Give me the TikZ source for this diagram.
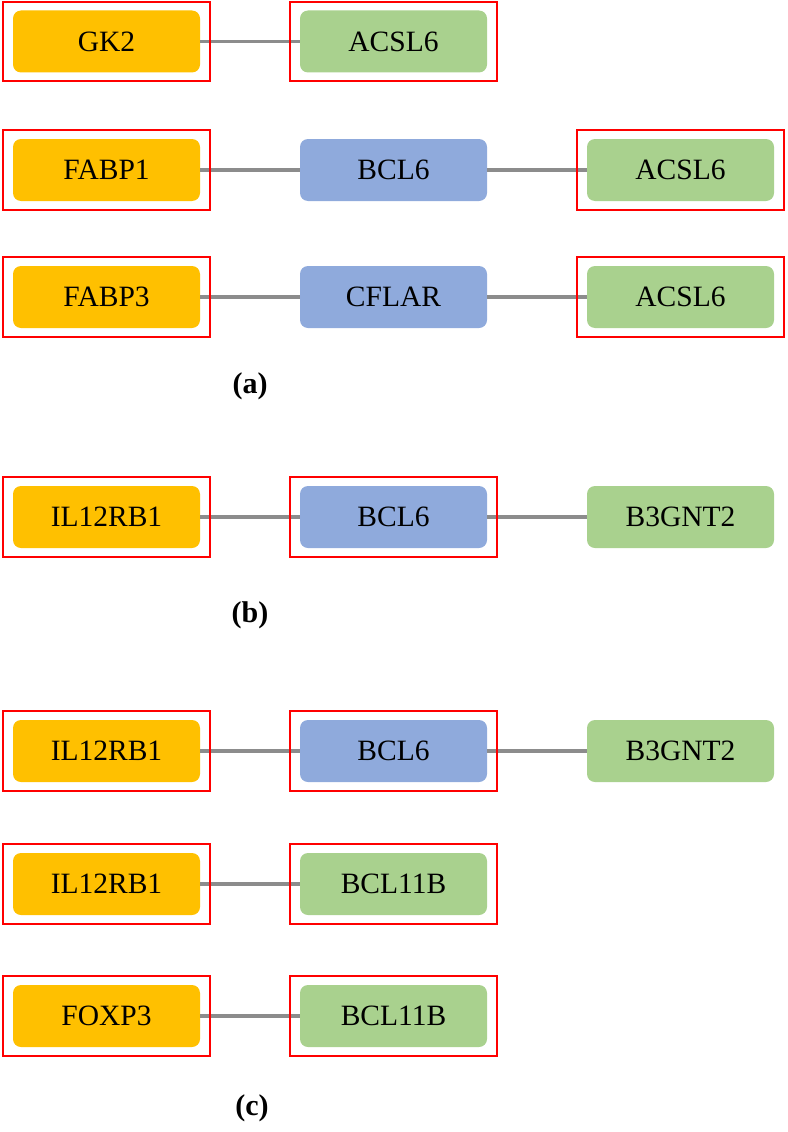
\documentclass[tikz,border=0pt]{standalone}
\usepackage{fontspec}
\setmainfont{Liberation Serif}
\usetikzlibrary{fit}
\definecolor{cyel}{HTML}{FFC000}
\definecolor{cblue}{HTML}{8FAADC}
\definecolor{cgreen}{HTML}{A9D18E}
\definecolor{clink}{HTML}{8C8C8C}
\begin{document}
\begin{tikzpicture}[x=1pt,y=-1pt,
  gene/.style={rounded corners=8pt, minimum width=187pt, minimum height=62pt, inner sep=0pt,
               font=\fontsize{29.5}{34}\selectfont, text=black},
  yel/.style={gene, fill=cyel},
  blu/.style={gene, fill=cblue},
  grn/.style={gene, fill=cgreen},
  link/.style={draw=clink, line width=3.5pt},
  hl/.style={draw=red, line width=2.2pt, inner xsep=9.5pt, inner ysep=8.5pt},
  lab/.style={font=\fontsize{30}{34}\selectfont\bfseries}]
\useasboundingbox (0,0) rectangle (787,1132);

% (a)
\node[yel] (r1a) at (106.5,41.5) {GK2};
\node[grn] (r1b) at (393.5,41.5) {ACSL6};
\node[yel] (r2a) at (106.5,170) {FABP1};
\node[blu] (r2b) at (393.5,170) {BCL6};
\node[grn] (r2c) at (680.5,170) {ACSL6};
\node[yel] (r3a) at (106.5,297) {FABP3};
\node[blu] (r3b) at (393.5,297) {CFLAR};
\node[grn] (r3c) at (680.5,297) {ACSL6};
\node[lab] (la) at (250,386) {(a)};

% (b)
\node[yel] (r4a) at (106.5,517) {IL12RB1};
\node[blu] (r4b) at (393.5,517) {BCL6};
\node[grn] (r4c) at (680.5,517) {B3GNT2};
\node[lab] (lb) at (250,615) {(b)};

% (c)
\node[yel] (r5a) at (106.5,751) {IL12RB1};
\node[blu] (r5b) at (393.5,751) {BCL6};
\node[grn] (r5c) at (680.5,751) {B3GNT2};
\node[yel] (r6a) at (106.5,884) {IL12RB1};
\node[grn] (r6b) at (393.5,884) {BCL11B};
\node[yel] (r7a) at (106.5,1016) {FOXP3};
\node[grn] (r7b) at (393.5,1016) {BCL11B};
\node[lab] (lc) at (252,1108) {(c)};

% links
\foreach \s/\t in {r1a/r1b, r2a/r2b, r2b/r2c, r3a/r3b, r3b/r3c, r4a/r4b, r4b/r4c,
                   r5a/r5b, r5b/r5c, r6a/r6b, r7a/r7b}
  \draw[link] (\s.east) -- (\t.west);

% red highlight boxes
\foreach \n in {r1a, r1b, r2a, r2c, r3a, r3c, r4a, r4b, r5a, r5b, r6a, r6b, r7a, r7b}
  \node[hl, fit=(\n)] (hl-\n) {};
\end{tikzpicture}
\end{document}
